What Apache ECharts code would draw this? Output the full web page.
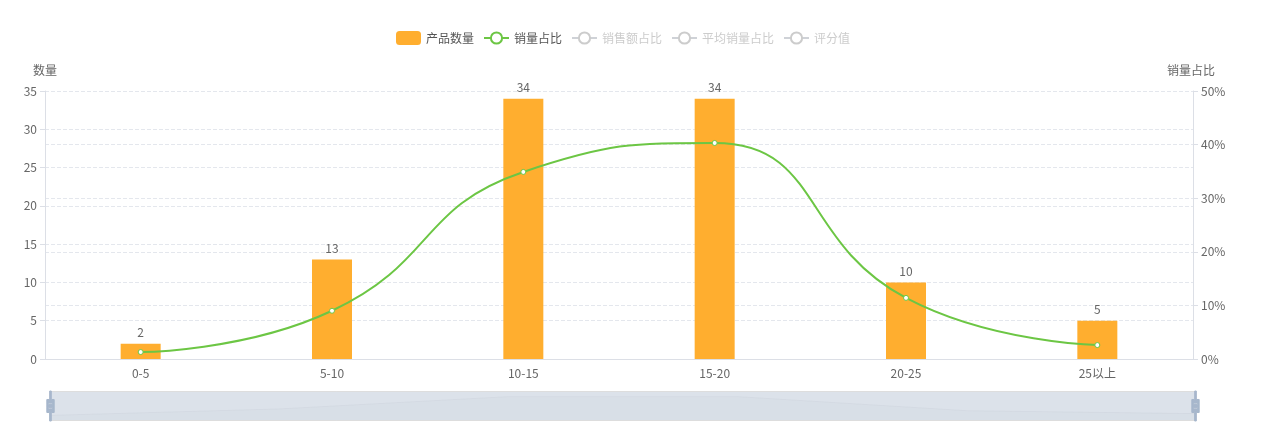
<!DOCTYPE html>
<html>
<head>
<meta charset="utf-8">
<script src="https://cdn.jsdelivr.net/npm/echarts@6/dist/echarts.min.js"></script>
<style>
  html, body { margin: 0; padding: 0; background: #fff; }
  #chart { width: 1277px; height: 441px; }
</style>
</head>
<body>
<div id="chart"></div>
<script>
// 价格区间
const categories = ['0-5', '5-10', '10-15', '15-20', '20-25', '25以上'];
// 产品数量
const countData = [2, 13, 34, 34, 10, 5];
// 销量占比 (%)
const salesShare = [1.3, 9.0, 34.9, 40.3, 11.4, 2.6];
// 图例中未选中的系列, 图上看不到数据
const hiddenNames = ['销售额占比', '平均销量占比', '评分值'];

const axisColor = '#DCDFE6';
const textColor = '#666';
const fontFamily = '"Noto Sans CJK SC", "Noto Sans", sans-serif';

const series = [{
  name: '产品数量',
  type: 'bar',
  barWidth: 40,
  itemStyle: { color: '#FFAE2F' },
  label: { show: true, position: 'top', color: textColor, fontSize: 12 },
  data: countData
}, {
  name: '销量占比',
  type: 'line',
  yAxisIndex: 1,
  smooth: true,
  symbol: 'circle',
  symbolSize: 5,
  itemStyle: { color: '#fff', borderColor: '#6CC644', borderWidth: 1 },
  lineStyle: { color: '#6CC644', width: 2 },
  data: salesShare
}];
hiddenNames.forEach(function (n) {
  series.push({ name: n, type: 'line', yAxisIndex: 1, smooth: true, data: [] });
});

const selected = {};
hiddenNames.forEach(function (n) { selected[n] = false; });

const option = {
  textStyle: { fontFamily: fontFamily },
  color: ['#FFAE2F', '#6CC644', '#5B9BF0', '#F76B6B', '#9B7CE8'],
  legend: {
    left: 391,
    top: 26,
    itemWidth: 25,
    itemHeight: 14,
    itemGap: 9,
    selected: selected,
    textStyle: { color: '#555', fontSize: 12 },
    inactiveColor: '#ccc',
    data: [
      { name: '产品数量', icon: 'roundRect' },
      '销量占比', '销售额占比', '平均销量占比', '评分值'
    ]
  },
  grid: { left: 45, right: 84, top: 91, bottom: 82, containLabel: false },
  xAxis: [{
    type: 'category',
    data: categories,
    axisLine: { lineStyle: { color: axisColor } },
    axisTick: { lineStyle: { color: axisColor } },
    axisLabel: { color: textColor, fontSize: 12, margin: 8 }
  }],
  yAxis: [{
    type: 'value',
    name: '数量',
    nameTextStyle: { color: textColor, fontSize: 12 },
    min: 0,
    max: 35,
    interval: 5,
    axisLine: { show: true, lineStyle: { color: axisColor } },
    axisTick: { show: true, lineStyle: { color: axisColor } },
    axisLabel: { color: textColor, fontSize: 12 },
    splitLine: { lineStyle: { color: '#E4E7ED', type: 'dashed' } }
  }, {
    type: 'value',
    name: '销量占比',
    nameTextStyle: { color: textColor, fontSize: 12, padding: [0, 4, 0, 0] },
    min: 0,
    max: 50,
    interval: 10,
    axisLine: { show: true, lineStyle: { color: axisColor } },
    axisTick: { show: true, lineStyle: { color: axisColor } },
    axisLabel: { color: textColor, fontSize: 12, formatter: '{value}%' },
    splitLine: { lineStyle: { color: '#E4E7ED', type: 'dashed' } }
  }],
  dataZoom: [{
    type: 'slider',
    xAxisIndex: 0,
    start: 0,
    end: 100,
    left: 47,
    right: 83,
    bottom: 20,
    height: 30,
    showDetail: false,
    brushSelect: false,
    moveHandleSize: 0,
    borderColor: '#ddd',
    backgroundColor: 'rgba(47,69,84,0)',
    fillerColor: 'rgba(167,183,203,0.4)',
    handleIcon: 'M8.2,13.6V3.9H6.3v9.7H3.1v14.9h3.3v9.7h1.8v-9.7h3.3V13.6H8.2z M9.7,24.4H4.8v-1.4h4.9V24.4z M9.7,19.1H4.8v-1.4h4.9V19.1z',
    handleSize: '100%',
    handleStyle: { color: '#A7B7CC', borderColor: '#A7B7CC' },
    dataBackground: {
      lineStyle: { color: 'rgba(47,69,84,0.12)', width: 0.5 },
      areaStyle: { color: 'rgba(47,69,84,0.09)' }
    },
    selectedDataBackground: {
      lineStyle: { color: 'rgba(47,69,84,0.12)', width: 0.5 },
      areaStyle: { color: 'rgba(47,69,84,0.09)' }
    }
  }],
  series: series
};

let myChart = echarts.init(document.getElementById('chart'));
myChart.setOption(option);
window.onresize = function () {
  myChart.resize();
};
</script>
</body>
</html>
